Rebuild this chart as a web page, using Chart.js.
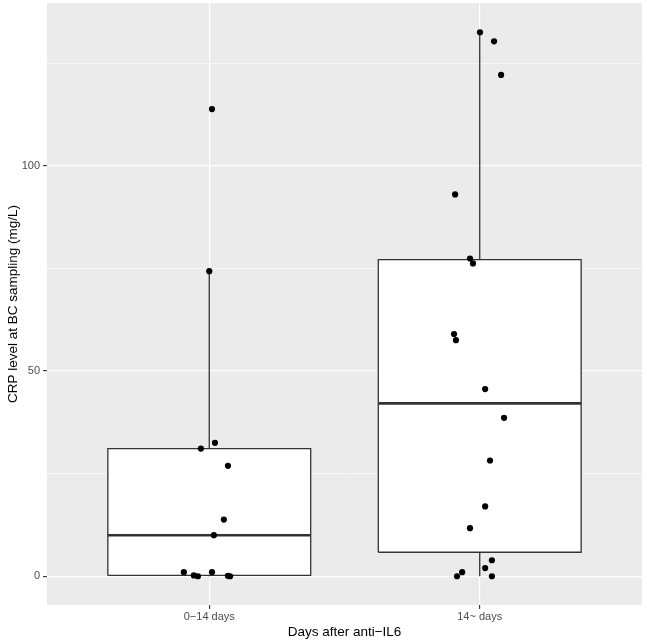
<!DOCTYPE html>
<html><head><meta charset="utf-8">
<script src="https://cdn.jsdelivr.net/npm/chart.js@4.4.1/dist/chart.umd.min.js"></script>
<style>html,body{margin:0;padding:0;background:#fff}#wrap{width:647px;height:642px}</style>
</head><body><div id="wrap"><canvas id="c" width="647" height="642"></canvas></div>
<script>
// ---- data ----
const categories = ['0\u221214 days', '14~ days'];
const crpEarly = [113.8, 74.3, 31.1, 32.5, 26.9, 13.8, 10.0, 1.0, 0.2, 0.0, 1.0, 0.1, 0.0];
const jitterEarly = [0.010, 0.000, -0.031, 0.021, 0.069, 0.054, 0.017, -0.094, -0.057, -0.042, 0.010, 0.069, 0.077];
const crpLate = [132.5, 130.3, 122.1, 93.0, 77.4, 76.2, 59.0, 57.5, 45.6, 38.6, 28.2, 17.0, 11.7, 3.9, 2.0, 1.0, 0.0, 0.0];
const jitterLate = [0.001, 0.053, 0.079, -0.091, -0.036, -0.025, -0.095, -0.088, 0.020, 0.090, 0.038, 0.020, -0.036, 0.045, 0.020, -0.065, -0.084, 0.045];
const yGridTicks = [0, 25, 50, 75, 100, 125];
const yLabelTicks = [0, 50, 100];
const yTitle = 'CRP level at BC sampling (mg/L)';
const xTitle = 'Days after anti\u2212IL6';

// ---- box statistics (ggplot style, quantile type 7) ----
function quantile(arr, p) {
  const s = [...arr].sort((a, b) => a - b);
  const h = (s.length - 1) * p, lo = Math.floor(h), hi = Math.ceil(h);
  return s[lo] + (h - lo) * (s[hi] - s[lo]);
}
function boxStats(arr) {
  const q1 = quantile(arr, 0.25), med = quantile(arr, 0.5), q3 = quantile(arr, 0.75);
  const iqr = q3 - q1;
  const inside = arr.filter(v => v >= q1 - 1.5 * iqr && v <= q3 + 1.5 * iqr);
  return { q1, med, q3, lo: Math.min(...inside), hi: Math.max(...inside) };
}
const groups = [crpEarly, crpLate];
const jitters = [jitterEarly, jitterLate];
const halfW = 0.375;
const boxColor = '#333333';

const datasets = [];
// jittered points (top)
groups.forEach((vals, gi) => {
  datasets.push({
    data: vals.map((v, i) => ({ x: gi + 1 + jitters[gi][i], y: v })),
    showLine: false, pointRadius: 3.1, pointHoverRadius: 3.1,
    pointBackgroundColor: '#000', pointBorderWidth: 0, order: 0
  });
});
groups.forEach((vals, gi) => {
  const c = gi + 1, st = boxStats(vals);
  // median
  datasets.push({ data: [{ x: c - halfW, y: st.med }, { x: c + halfW, y: st.med }],
    borderColor: boxColor, borderWidth: 2.6, pointRadius: 0, order: 2, borderCapStyle: 'butt' });
  // box outline
  datasets.push({ data: [{ x: c - halfW, y: st.q1 }, { x: c - halfW, y: st.q3 }, { x: c + halfW, y: st.q3 },
      { x: c + halfW, y: st.q1 }, { x: c - halfW, y: st.q1 }],
    borderColor: boxColor, borderWidth: 1.3, pointRadius: 0, order: 3, borderJoinStyle: 'miter' });
  // whiskers
  datasets.push({ data: [{ x: c, y: st.q3 }, { x: c, y: st.hi }],
    borderColor: boxColor, borderWidth: 1.3, pointRadius: 0, order: 4 });
  datasets.push({ data: [{ x: c, y: st.q1 }, { x: c, y: st.lo }],
    borderColor: boxColor, borderWidth: 1.3, pointRadius: 0, order: 4 });
  // white box fill
  datasets.push({ data: [{ x: c - halfW, y: st.q3 }, { x: c + halfW, y: st.q3 }],
    borderWidth: 0, borderColor: 'rgba(0,0,0,0)', pointRadius: 0,
    fill: { value: st.q1 }, backgroundColor: '#ffffff', order: 5 });
});

const panelBg = {
  id: 'panelBg',
  beforeDraw(chart) {
    const { ctx, chartArea: a } = chart;
    ctx.save(); ctx.fillStyle = '#EBEBEB';
    ctx.fillRect(a.left, a.top, a.right - a.left, a.bottom - a.top);
    ctx.restore();
  }
};

const font = 'Liberation Sans, Arial, Helvetica, sans-serif';
new Chart(document.getElementById('c'), {
  type: 'line',
  data: { datasets },
  plugins: [panelBg],
  options: {
    responsive: false, animation: false, devicePixelRatio: 1,
    layout: { padding: { top: 1, right: 5, left: 0, bottom: 0 } },
    plugins: { legend: { display: false }, tooltip: { enabled: false } },
    elements: { line: { tension: 0 } },
    scales: {
      x: {
        type: 'linear', min: 0.4, max: 2.6,
        afterBuildTicks: s => { s.ticks = categories.map((_, i) => ({ value: i + 1 })); },
        afterFit: s => { s.height = 37; s.paddingLeft = 0; s.paddingRight = 0; },
        ticks: { callback: v => categories[v - 1] || '', color: '#4D4D4D',
                 font: { family: font, size: 11 }, padding: 1, maxRotation: 0, autoSkip: false },
        grid: { color: '#FFFFFF', lineWidth: 1.2, tickLength: 4, tickColor: '#333333', tickWidth: 1.1 },
        border: { display: false },
        title: { display: true, text: xTitle, color: '#000', font: { family: font, size: 13.5 },
                 padding: { top: 0, bottom: 2 } }
      },
      y: {
        type: 'linear', min: -7.0, max: 139.6,
        afterBuildTicks: s => { s.ticks = yGridTicks.map(v => ({ value: v })); },
        afterFit: s => { s.width = 47; s.paddingTop = 0; s.paddingBottom = 0; },
        ticks: { callback: v => yLabelTicks.includes(v) ? String(v) : '', color: '#4D4D4D',
                 font: { family: font, size: 11 }, padding: 3 },
        grid: {
          color: '#FFFFFF',
          lineWidth: c => yLabelTicks.includes(c.tick && c.tick.value) ? 1.2 : 0.6,
          tickLength: 4,
          tickColor: c => yLabelTicks.includes(c.tick && c.tick.value) ? '#333333' : 'rgba(0,0,0,0)',
          tickWidth: 1.1
        },
        border: { display: false },
        title: { display: true, text: yTitle, color: '#000', font: { family: font, size: 13.5 },
                 padding: { top: 5, bottom: 0 } }
      }
    }
  }
});
</script></body></html>
